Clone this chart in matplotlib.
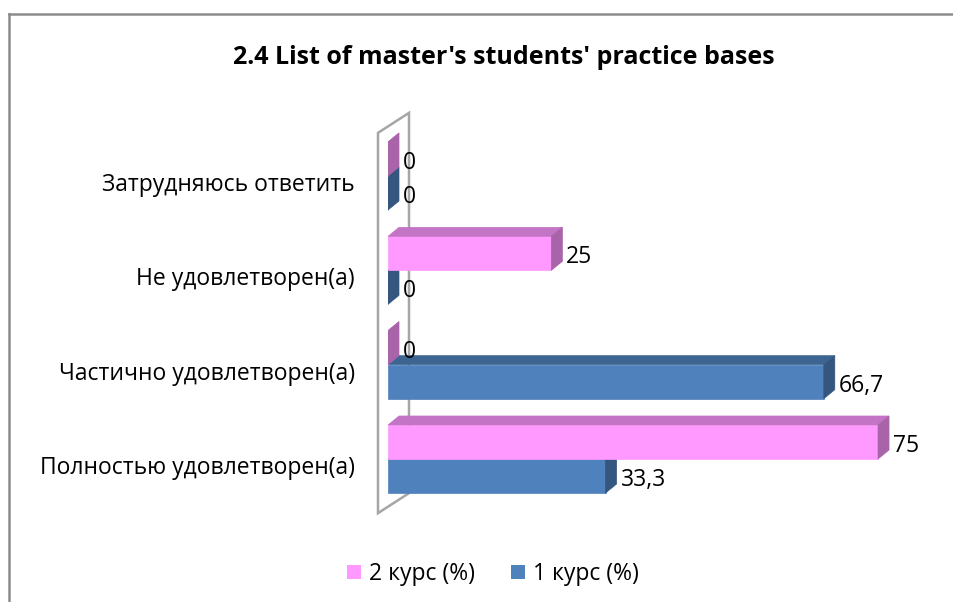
import matplotlib
matplotlib.use('Agg')
import matplotlib.pyplot as plt
from matplotlib.patches import Polygon, Patch
from matplotlib.lines import Line2D

plt.rcParams['font.family'] = ['Open Sans', 'DejaVu Sans']

# data
categories = ['Полностью удовлетворен(а)', 'Частично удовлетворен(а)',
              'Не удовлетворен(а)', 'Затрудняюсь ответить']
course1 = [33.3, 66.7, 0, 0]
course2 = [75, 0, 25, 0]
course1_labels = ['33,3', '66,7', '0', '0']
course2_labels = ['75', '0', '25', '0']
series_names = ['2 курс (%)', '1 курс (%)']
title = "2.4 List of master's students' practice bases"

# colours: front, top, side
BLUE = ('#4F81BD', '#3D6591', '#34567F')
PINK = ('#FF99FF', '#C474C4', '#A963A9')

W, H = 954, 602
fig = plt.figure(figsize=(W / 100, H / 100), dpi=100)
ax_pos = [388 / W, 1 - 506.15 / H, 522.7 / W, 377.3 / H]
ax = fig.add_axes(ax_pos)
XMAX = 80
ax.set_xlim(0, XMAX)
ax.set_ylim(-0.5, 3.5)
ax.axis('off')

# pixel -> data unit conversions
sx = ax_pos[2] * W / XMAX
sy = ax_pos[3] * H / 4.0
dx, dy = 11 / sx, 9 / sy
bh = 34 / sy
FS = 16.5


def draw_bar(y0, length, colours, z):
    front, top, side = colours
    ax.barh(y0, length, height=bh, align='edge', color=front, zorder=z,
            edgecolor=front, linewidth=0.5)
    y1 = y0 + bh
    ax.add_patch(Polygon([(0, y1), (length, y1), (length + dx, y1 + dy), (dx, y1 + dy)],
                         closed=True, facecolor=top, edgecolor=top, lw=0.5, zorder=z))
    ax.add_patch(Polygon([(length, y0), (length, y1), (length + dx, y1 + dy), (length + dx, y0 + dy)],
                         closed=True, facecolor=side, edgecolor=side, lw=0.5, zorder=z))


# back wall
wf, wb = -10 / sx, 21 / sx
wall = Polygon([(wf, 3.5 - 4 / sy), (wf, -0.5 - 7 / sy), (wb, -0.5 + 13 / sy), (wb, 3.5 + 16 / sy)],
               closed=True, facecolor='white', edgecolor='#A6A6A6', lw=1.8,
               clip_on=False, zorder=1)
ax.add_patch(wall)

for i in range(len(categories)):
    draw_bar(i - bh, course1[i], BLUE, 2 + i * 2)
    draw_bar(i, course2[i], PINK, 3 + i * 2)
    ax.text(course1[i] + 15 / sx, i - bh / 2 - 4 / sy, course1_labels[i], ha='left',
            va='center', fontsize=FS, zorder=20)
    ax.text(course2[i] + 15 / sx, i + bh / 2 - 4 / sy, course2_labels[i], ha='left',
            va='center', fontsize=FS, zorder=20)
    ax.text(-33 / sx, i - 9 / sy, categories[i], ha='right', va='center',
            fontsize=FS, clip_on=False)

fig.text(504 / W, 1 - 58 / H, title, ha='center', va='center',
         fontsize=18, fontweight='bold')

handles = [Patch(facecolor=PINK[0]), Patch(facecolor=BLUE[0])]
fig.legend(handles, series_names, loc='center', bbox_to_anchor=(493 / W, 1 - 574 / H),
           ncol=2, frameon=False, fontsize=FS, handlelength=0.6, handleheight=0.6,
           handletextpad=0.35, columnspacing=1.6)

# outer chart frame (only left and top edges are visible)
fig.add_artist(Line2D([9 / W, 9 / W], [0, 1 - 14 / H], color='#8C8C8C', lw=1.8))
fig.add_artist(Line2D([9 / W, 1], [1 - 14 / H, 1 - 14 / H], color='#8C8C8C', lw=1.8))

fig.savefig('out.png', dpi=100)
